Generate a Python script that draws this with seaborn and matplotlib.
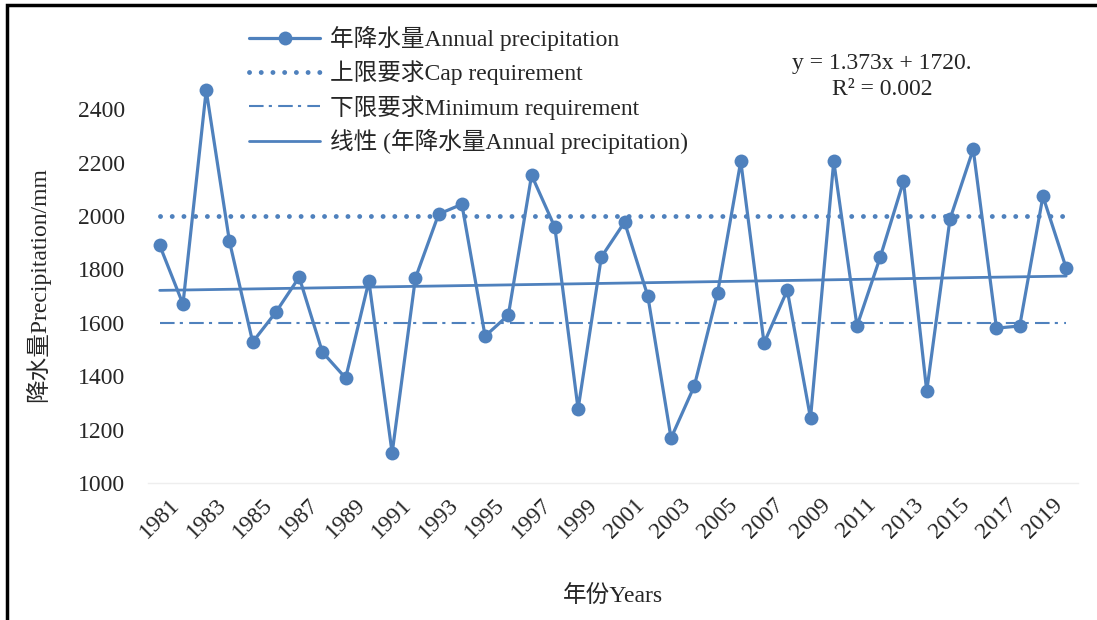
import matplotlib.pyplot as plt
import seaborn as sns
import pandas as pd
from matplotlib.patches import Rectangle

years = list(range(1981, 2021))
precip = [1890, 1670, 2471, 1905, 1528, 1640, 1771, 1490, 1393, 1756,
          1112, 1767, 2007, 2044, 1550, 1629, 2153, 1958, 1277, 1846,
          1977, 1700, 1168, 1363, 1711, 2205, 1524, 1722, 1243, 2205,
          1588, 1846, 2130, 1344, 1988, 2250, 1580, 1588, 2074, 1805]
cap_value = 2000
min_value = 1600
slope = 1.373
intercept = 1720
r2 = 0.002
y_ticks = [1000, 1200, 1400, 1600, 1800, 2000, 2200, 2400]

df = pd.DataFrame({"year": years, "precip": precip})
df["idx"] = range(1, len(years) + 1)
df["trend"] = slope * df["idx"] + intercept

sns.set_theme(style="white")
plt.rcParams["font.family"] = ["Liberation Serif", "Noto Sans CJK SC"]

blue = "#4F81BD"
fig = plt.figure(figsize=(10.97, 6.20), dpi=100)
ax = fig.add_axes([0.135, 0.221, 0.8475, 0.689])

sns.lineplot(data=df, x="idx", y="precip", ax=ax, color=blue, lw=2.3,
             marker="o", markersize=10, markeredgewidth=0,
             label="年降水量Annual precipitation")
ax.plot(df["idx"], [cap_value] * len(df), color=blue, lw=3.5,
        linestyle=(0, (0.01, 2.4)), dash_capstyle="round",
        label="上限要求Cap requirement")
ax.plot(df["idx"], [min_value] * len(df), color=blue, lw=1.5,
        linestyle=(0, (7, 2.5, 1.5, 3)), label="下限要求Minimum requirement")
sns.lineplot(data=df, x="idx", y="trend", ax=ax, color=blue, lw=2,
             label="线性 (年降水量Annual precipitation)")

ax.set_xlim(0.5, len(years) + 0.5)
ax.set_ylim(1000, 2600)
ax.set_yticks(y_ticks)
ax.set_yticklabels([str(v) for v in y_ticks], fontsize=17)
ax.set_xticks(df["idx"][::2])
ax.set_xticklabels([str(y) for y in years[::2]], rotation=45, ha="center",
                   va="top", fontsize=17)
ax.tick_params(axis="x", length=0, pad=8)
ax.tick_params(axis="y", length=0, pad=16.5)
for s in ["top", "right", "left"]:
    ax.spines[s].set_visible(False)
ax.spines["bottom"].set_color("#EEEEEE")
ax.spines["bottom"].set_linewidth(1)

ax.set_xlabel("年份Years", fontsize=17, labelpad=31)
ax.set_ylabel("降水量Precipitation/mm", fontsize=17)
ax.yaxis.set_label_coords(-0.105, 0.464)

fig.text(0.804, 0.877, f"y = {slope}x + {intercept}.\nR² = {r2}",
         ha="center", va="center", fontsize=17, linespacing=1.3)

leg = ax.legend(loc="upper left", bbox_to_anchor=(0.208, 0.992),
                bbox_transform=fig.transFigure, frameon=False,
                fontsize=17, handlelength=3.0, labelspacing=0.4,
                handletextpad=0.4)

fig.patches.append(Rectangle((7 / 1097, -0.05), 1.2, 1 - 5 / 620 + 0.05,
                             transform=fig.transFigure, fill=False,
                             edgecolor="black", lw=2.5))

fig.savefig("out.png", dpi=100)
